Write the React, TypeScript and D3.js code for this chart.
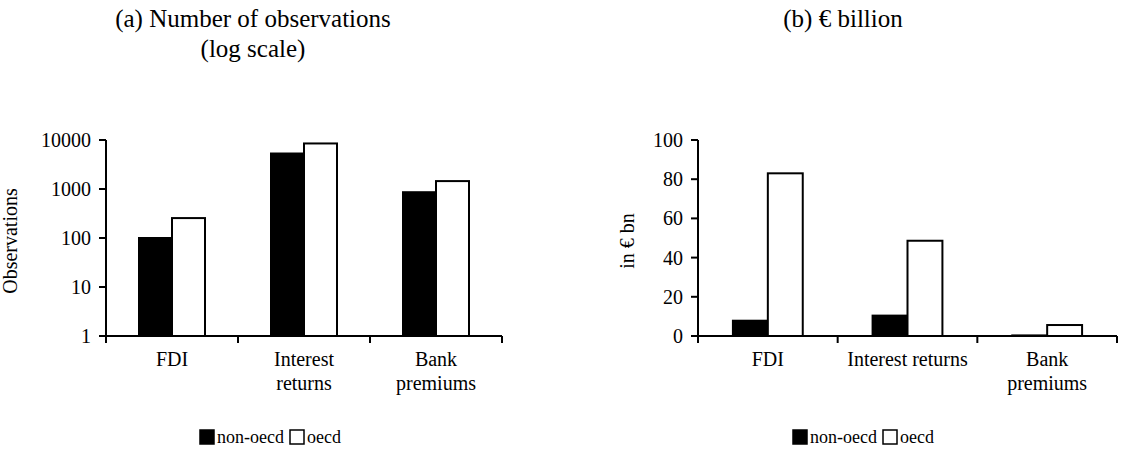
import React from "react";
import * as d3 from "d3";

const categories = ["FDI", "Interest returns", "Bank premiums"];
const series = ["non-oecd", "oecd"];
const obsNonOecd = [100, 5300, 860];
const obsOecd = [255, 8500, 1450];
const bnNonOecd = [7.8, 10.4, 0.3];
const bnOecd = [83, 48.6, 5.6];
const logTicks = [1, 10, 100, 1000, 10000];
const linTicks = [0, 20, 40, 60, 80, 100];
const leftLabels = [["FDI"], ["Interest", "returns"], ["Bank", "premiums"]];
const rightLabels = [["FDI"], ["Interest returns"], ["Bank", "premiums"]];
const fills = ["#000000", "#ffffff"];

const FONT = "Liberation Serif, Times New Roman, serif";

type PanelProps = {
  x0: number;
  x1: number;
  yScale: (v: number) => number;
  ticks: number[];
  values: number[][];
  labels: string[][];
  yLabel: string;
  yLabelX: number;
  baseVal: number;
  legendX: number;
};

function Panel({ x0, x1, yScale, ticks, values, labels, yLabel, yLabelX, baseVal, legendX }: PanelProps) {
  const xBand = d3.scaleBand<string>().domain(categories).range([x0, x1]).padding(0);
  const sub = d3.scaleBand<string>().domain(series).range([0, xBand.bandwidth()]).paddingInner(0).paddingOuter(1);
  const y0 = yScale(baseVal);
  const yTop = yScale(ticks[ticks.length - 1]);
  const boundaries = [...categories.map((c) => xBand(c)!), x1];
  return (
    <g>
      {categories.map((c, ci) =>
        series.map((s, si) => {
          const v = values[si][ci];
          const yv = yScale(v);
          return (
            <rect
              key={c + s}
              x={xBand(c)! + sub(s)!}
              y={yv}
              width={sub.bandwidth()}
              height={Math.max(0, y0 - yv)}
              fill={fills[si]}
              stroke="#000"
              strokeWidth={2}
            />
          );
        })
      )}
      <line x1={x0} x2={x0} y1={yTop} y2={y0} stroke="#000" strokeWidth={2} />
      <line x1={x0} x2={x1} y1={y0} y2={y0} stroke="#000" strokeWidth={2} />
      {ticks.map((t) => (
        <g key={t}>
          <line x1={x0 - 7} x2={x0} y1={yScale(t)} y2={yScale(t)} stroke="#000" strokeWidth={2} />
          <text x={x0 - 15} y={yScale(t)} dy="0.35em" textAnchor="end" fontSize={20} fontFamily={FONT}>
            {String(t)}
          </text>
        </g>
      ))}
      {boundaries.map((b, i) => (
        <line key={i} x1={b} x2={b} y1={y0} y2={y0 + 7} stroke="#000" strokeWidth={2} />
      ))}
      {categories.map((c, ci) => (
        <text key={c} x={xBand(c)! + xBand.bandwidth() / 2} y={y0 + 30} textAnchor="middle" fontSize={20} fontFamily={FONT}>
          {labels[ci].map((l, li) => (
            <tspan key={li} x={xBand(c)! + xBand.bandwidth() / 2} dy={li === 0 ? 0 : 24}>
              {l}
            </tspan>
          ))}
        </text>
      ))}
      <text
        transform={`translate(${yLabelX},${(yTop + y0) / 2 + 3}) rotate(-90)`}
        textAnchor="middle"
        fontSize={20}
        fontFamily={FONT}
      >
        {yLabel}
      </text>
      <g transform={`translate(${legendX},437)`}>
        <rect x={0} y={-7} width={14} height={14} fill="#000" stroke="#000" strokeWidth={1.5} />
        <text x={17} y={6} fontSize={18} fontFamily={FONT}>non-oecd</text>
        <rect x={90} y={-7} width={14} height={14} fill="#fff" stroke="#000" strokeWidth={1.5} />
        <text x={107} y={6} fontSize={18} fontFamily={FONT}>oecd</text>
      </g>
    </g>
  );
}

export default function App() {
  const yLog = d3.scaleLog().domain([1, 10000]).range([336, 140]);
  const yLin = d3.scaleLinear().domain([0, 100]).range([336, 140]);
  return (
    <svg width={1122} height={469} style={{ position: "absolute", left: 0, top: 0, background: "#fff" }}>
      <rect width={1122} height={469} fill="#fff" />
      <text x={253} y={27} textAnchor="middle" fontSize={25} fontFamily={FONT}>(a) Number of observations</text>
      <text x={253} y={57} textAnchor="middle" fontSize={25} fontFamily={FONT}>(log scale)</text>
      <text x={843} y={27} textAnchor="middle" fontSize={25} fontFamily={FONT}>(b) € billion</text>
      <Panel
        x0={106}
        x1={502}
        yScale={(v) => yLog(v)}
        ticks={logTicks}
        values={[obsNonOecd, obsOecd]}
        labels={leftLabels}
        yLabel="Observations"
        yLabelX={17}
        baseVal={1}
        legendX={200}
      />
      <Panel
        x0={698}
        x1={1117}
        yScale={(v) => yLin(v)}
        ticks={linTicks}
        values={[bnNonOecd, bnOecd]}
        labels={rightLabels}
        yLabel="in € bn"
        yLabelX={634}
        baseVal={0}
        legendX={793}
      />
    </svg>
  );
}
